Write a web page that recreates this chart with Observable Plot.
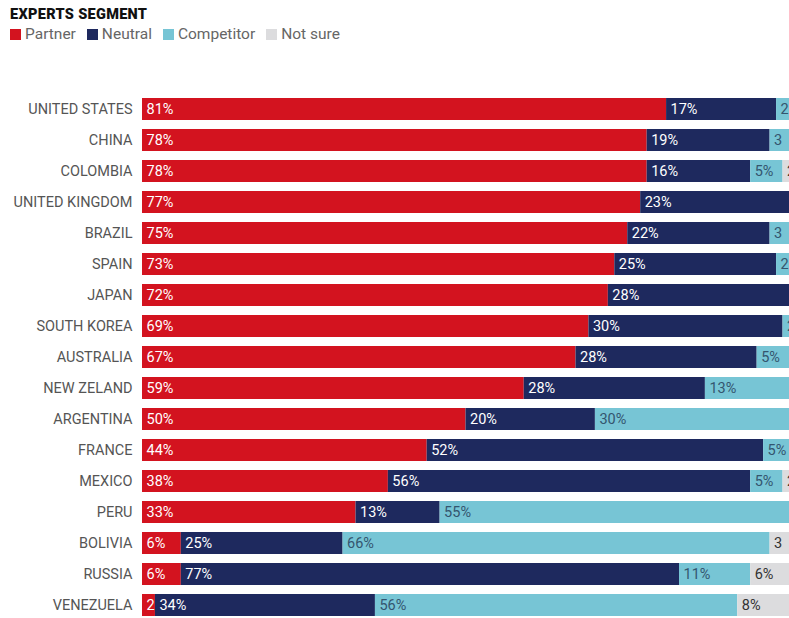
<!DOCTYPE html>
<html>
<head>
<meta charset="utf-8">
<script src="https://cdn.jsdelivr.net/npm/d3@7"></script>
<script src="https://cdn.jsdelivr.net/npm/@observablehq/plot@0.6"></script>
<style>
  html, body { margin: 0; padding: 0; background: #fff; overflow: hidden; }
  body { width: 789px; height: 618px; font-family: Roboto, "Noto Sans", sans-serif; }
  #head { height: 60px; position: relative; }
  #title { position: absolute; left: 10px; top: 6px; font-family: Roboto, sans-serif; font-weight: 900; font-size: 14.5px; color: #111; letter-spacing: 0.3px; }
  #legend { position: absolute; left: 10px; top: 25px; display: flex; align-items: center; font-size: 15.5px; color: #666; }
  #legend .item { display: flex; align-items: center; margin-right: 11px; }
  #legend .sw { width: 11px; height: 11px; margin-right: 4px; }
</style>
</head>
<body>
<div id="head">
  <div id="title">EXPERTS SEGMENT</div>
  <div id="legend"></div>
</div>
<div id="chart"></div>
<script>
const countries = ["UNITED STATES","CHINA","COLOMBIA","UNITED KINGDOM","BRAZIL","SPAIN","JAPAN","SOUTH KOREA","AUSTRALIA","NEW ZELAND","ARGENTINA","FRANCE","MEXICO","PERU","BOLIVIA","RUSSIA","VENEZUELA"];
const partner    = [81,78,78,77,75,73,72,69,67,59,50,44,38,33, 6, 6, 2];
const neutral    = [17,19,16,23,22,25,28,30,28,28,20,52,56,13,25,77,34];
const competitor = [ 2, 3, 5, 0, 3, 2, 0, 2, 5,13,30, 5, 5,55,66,11,56];
const notSure    = [ 0, 0, 2, 0, 0, 0, 0, 0, 0, 0, 0, 0, 2, 0, 3, 6, 8];
const segments = ["Partner","Neutral","Competitor","Not sure"];
const colors = ["#d3131f","#1e295e","#77c5d5","#dcdcde"];
const series = [partner, neutral, competitor, notSure];

// long format with cumulative start (derived from data)
const rows = [];
countries.forEach((c, i) => {
  let start = 0;
  series.forEach((s, k) => {
    rows.push({country: c, segment: segments[k], value: s[i], start});
    start += s[i];
  });
});
const lbl = d => d.value >= 4 ? d.value + "%" : String(d.value);
const labelRows = rows.filter(d => d.value > 0);

// legend
const leg = document.getElementById("legend");
segments.forEach((s, k) => {
  const it = document.createElement("div");
  it.className = "item";
  it.innerHTML = `<div class="sw" style="background:${colors[k]}"></div><span>${s}</span>`;
  leg.appendChild(it);
});

const textOpts = (fill) => ({
  x: "start", y: "country", text: lbl, textAnchor: "start", dx: 4,
  fill, fontSize: 14.5, fontFamily: "Roboto, sans-serif", clip: true
});

const chart = Plot.plot({
  width: 789,
  height: 558,
  marginTop: 36,
  marginBottom: 0,
  marginLeft: 142,
  marginRight: 0,
  style: {fontFamily: "Roboto, sans-serif", background: "#fff"},
  x: {domain: [0, 100], axis: null},
  y: {domain: countries, paddingInner: 0.296, paddingOuter: 0, label: null},
  color: {domain: segments, range: colors},
  marks: [
    Plot.barX(rows, Plot.stackX({x: "value", y: "country", fill: "segment", order: null, clip: true})),
    Plot.text(labelRows.filter(d => d.segment === "Partner" || d.segment === "Neutral"), textOpts("#ffffff")),
    Plot.text(labelRows.filter(d => d.segment === "Competitor"), textOpts("#34556f")),
    Plot.text(labelRows.filter(d => d.segment === "Not sure"), textOpts("#333333")),
    Plot.axisY({tickSize: 0, tickPadding: 10, fontSize: 14.5, fill: "#555", label: null})
  ]
});
document.getElementById("chart").appendChild(chart);
</script>
</body>
</html>
